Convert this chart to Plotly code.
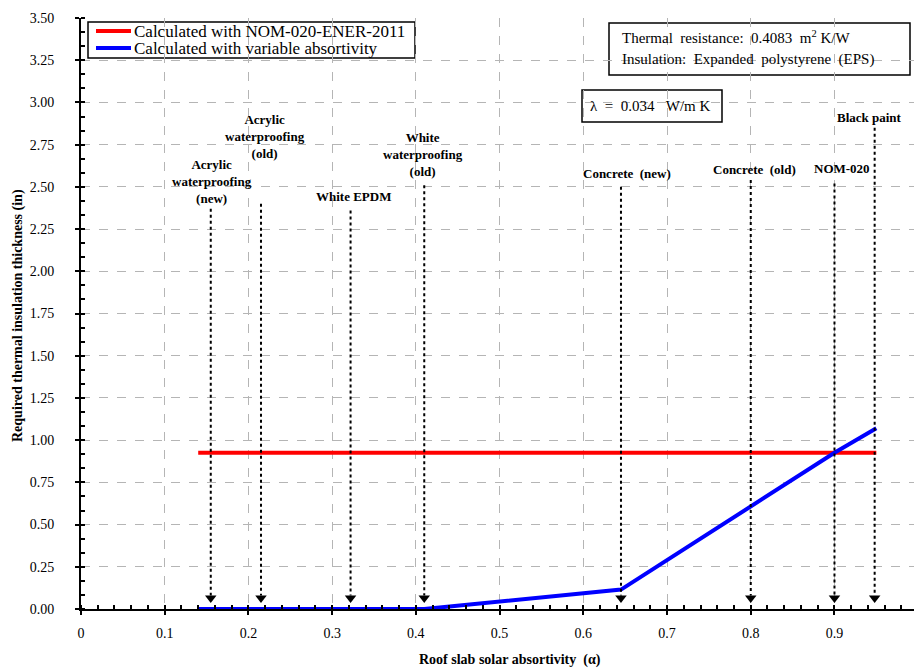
import plotly.graph_objects as go

# ---------------- data ----------------
series_names = ["Calculated with NOM-020-ENER-2011", "Calculated with variable absortivity"]

alpha_nom = [0.14, 0.95]
thick_nom = [0.925, 0.925]

alpha_var = [0.14, 0.41, 0.645, 0.70, 0.75, 0.80, 0.90, 0.95]
thick_var = [0.0, 0.0, 0.115, 0.29, 0.45, 0.61, 0.925, 1.07]

materials = [
    "Acrylic<br>waterproofing<br>(new)",
    "Acrylic<br>waterproofing<br>(old)",
    "White EPDM",
    "White<br>waterproofing<br>(old)",
    "Concrete  (new)",
    "Concrete  (old)",
    "NOM-020",
    "Black paint",
]
material_alpha = [0.155, 0.215, 0.322, 0.41, 0.645, 0.80, 0.90, 0.948]
arrow_top = [2.37, 2.40, 2.36, 2.51, 2.50, 2.54, 2.52, 2.85]
label_x = [0.156, 0.22, 0.325, 0.408, 0.652, 0.804, 0.909, 0.942]
label_y = [2.53, 2.80, 2.44, 2.69, 2.58, 2.60, 2.61, 2.91]

x_ticks = [0, 0.1, 0.2, 0.3, 0.4, 0.5, 0.6, 0.7, 0.8, 0.9]
x_ticklabels = ["0", "0.1", "0.2", "0.3", "0.4", "0.5", "0.6", "0.7", "0.8", "0.9"]
y_ticks = [0, 0.25, 0.5, 0.75, 1.0, 1.25, 1.5, 1.75, 2.0, 2.25, 2.5, 2.75, 3.0, 3.25, 3.5]
y_ticklabels = ["%.2f" % v for v in y_ticks]

FONT = "Liberation Serif"
RED = "#ff0000"
BLUE = "#0000ff"

fig = go.Figure()

fig.add_trace(go.Scatter(
    x=alpha_nom, y=thick_nom, mode="lines",
    line=dict(color=RED, width=4), name=series_names[0],
))
fig.add_trace(go.Scatter(
    x=alpha_var, y=thick_var, mode="lines",
    line=dict(color=BLUE, width=4), name=series_names[1],
))

# dotted arrows
ax_, ay_ = [], []
for xa, yt in zip(material_alpha, arrow_top):
    ax_ += [xa, xa, None]
    ay_ += [yt, 0.08, None]
fig.add_trace(go.Scatter(
    x=ax_, y=ay_, mode="lines",
    line=dict(color="black", width=2, dash="dot"),
    showlegend=False, hoverinfo="skip",
))
fig.add_trace(go.Scatter(
    x=material_alpha, y=[0.065] * len(material_alpha), mode="markers",
    marker=dict(symbol="triangle-down", size=10, color="black"),
    showlegend=False, hoverinfo="skip",
))

annotations = []
for txt, lx, ly in zip(materials, label_x, label_y):
    annotations.append(dict(
        x=lx, y=ly, xref="x", yref="y", text="<b>%s</b>" % txt,
        showarrow=False, xanchor="center", yanchor="middle",
        font=dict(family=FONT, size=13, color="black"),
    ))

# ---- custom legend (paper coords) ----
PW, PH, L, T = 833.0, 591.0, 81.0, 18.0
def px(xp):
    return (xp - L) / PW
def py(yp):
    return (T + PH - yp) / PH

shapes = [
    dict(type="rect", xref="paper", yref="paper", x0=px(88), x1=px(415), y0=py(58), y1=py(22),
         line=dict(color="black", width=1.5), fillcolor="white", layer="below"),
    dict(type="line", xref="paper", yref="paper", x0=px(96), x1=px(131), y0=py(31), y1=py(31),
         line=dict(color=RED, width=4)),
    dict(type="line", xref="paper", yref="paper", x0=px(96), x1=px(131), y0=py(48), y1=py(48),
         line=dict(color=BLUE, width=4)),
    dict(type="rect", xref="paper", yref="paper", x0=px(609), x1=px(910), y0=py(75), y1=py(23),
         line=dict(color="black", width=1.5), fillcolor="white", layer="below"),
    dict(type="rect", xref="paper", yref="paper", x0=px(582), x1=px(722), y0=py(122), y1=py(90),
         line=dict(color="black", width=1.5), fillcolor="white", layer="below"),
]
for name, yy in zip(series_names, [31, 48]):
    annotations.append(dict(
        x=px(132), y=py(yy), xref="paper", yref="paper", xanchor="left", yanchor="middle",
        text=name, showarrow=False, font=dict(family=FONT, size=17, color="black"),
    ))

# info boxes text
annotations.append(dict(
    x=px(620), y=py(37), xref="paper", yref="paper", xanchor="left", yanchor="middle",
    text="Thermal  resistance:  0.4083  m<sup>2</sup> K/W", showarrow=False,
    font=dict(family=FONT, size=15, color="black"),
))
annotations.append(dict(
    x=px(620), y=py(60), xref="paper", yref="paper", xanchor="left", yanchor="middle",
    text="Insulation:  Expanded  polystyrene  (EPS)", showarrow=False,
    font=dict(family=FONT, size=15, color="black"),
))
annotations.append(dict(
    x=px(650), y=py(106), xref="paper", yref="paper", xanchor="center", yanchor="middle",
    text="λ  =  0.034   W/m K", showarrow=False,
    font=dict(family=FONT, size=15, color="black"),
))
# axis titles
annotations.append(dict(
    x=px(18), y=py(316), xref="paper", yref="paper", xanchor="center", yanchor="middle",
    text="<b>Required thermal insulation thickness (in)</b>", textangle=-90, showarrow=False,
    font=dict(family=FONT, size=14, color="black"),
))
annotations.append(dict(
    x=px(510), y=py(660), xref="paper", yref="paper", xanchor="center", yanchor="middle",
    text="<b>Roof slab solar absortivity  (α)</b>", showarrow=False,
    font=dict(family=FONT, size=14, color="black"),
))

fig.update_layout(
    width=914, height=671,
    margin=dict(l=81, r=0, t=18, b=62, autoexpand=False),
    paper_bgcolor="white", plot_bgcolor="white",
    font=dict(family=FONT, size=14, color="black"),
    showlegend=False,
    annotations=annotations,
    shapes=shapes,
)

fig.update_xaxes(
    range=[0, 0.995], tickmode="array", tickvals=x_ticks, ticktext=x_ticklabels,
    showline=True, linecolor="black", linewidth=2, automargin=False,
    ticks="outside", ticklen=4, tickwidth=2, tickcolor="black",
    minor=dict(dtick=0.02, ticks="inside", ticklen=4, tickwidth=1.5, tickcolor="black", showgrid=False),
    showgrid=True, gridcolor="#b5b5b5", griddash="dash", gridwidth=1,
    zeroline=False, tickfont=dict(family=FONT, size=14), ticklabelstandoff=6,
)
fig.update_yaxes(
    range=[0, 3.5], tickmode="array", tickvals=y_ticks, ticktext=y_ticklabels,
    showline=True, linecolor="black", linewidth=2, automargin=False,
    ticks="outside", ticklen=4, tickwidth=2, tickcolor="black",
    minor=dict(dtick=0.083333, ticks="inside", ticklen=4, tickwidth=1.5, tickcolor="black", showgrid=False),
    showgrid=True, gridcolor="#b5b5b5", griddash="dash", gridwidth=1,
    zeroline=False, tickfont=dict(family=FONT, size=14), ticklabelstandoff=18,
)

fig.write_html(
    "out.html",
    config={"displayModeBar": False},
    post_script="document.body.style.margin='0px';document.body.style.overflow='hidden';",
)
